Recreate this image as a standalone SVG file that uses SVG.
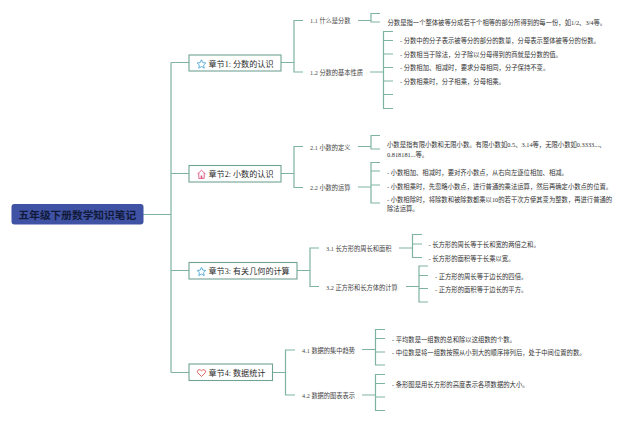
<svg xmlns="http://www.w3.org/2000/svg" width="640" height="422" viewBox="0 0 640 422">
<style>
text{font-family:"Liberation Serif","Noto Sans CJK SC",serif;fill:#333}
.root{font-size:10.7px;font-weight:700;fill:#111a3a}
.ch{font-size:8.1px;fill:#2b2b2b}
.sub{font-size:6.25px;fill:#444}
.b{font-size:6.33px}
.box{fill:#fff;stroke:#6fa394;stroke-width:1.1}
#connectors path{fill:none;stroke:#7fb3a1;stroke-width:1.2}
</style>
<rect width="640" height="422" fill="#fff"/>
<g id="connectors">
<path d="M143 214.5H171M171 62.5V372.5M171 62.5H189M171 173.5H189M171 270.5H189M171 372.5H189"/>
<path d="M281 62.5H294M303 20.5H294V72H303"/>
<path d="M281 173.5H294M303 146.5H294V187.5H303"/>
<path d="M297 270.5H310M319 248H310V286.5H319"/>
<path d="M272.5 372.5H285.5M295 350H285.5V395H295"/>
<path d="M358 20.5H371M380 13.5H371V22H380"/>
<path d="M370 72H383.5M393 31.5H383.5V108.5H393M383.5 40.5H393M383.5 54H393M383.5 67.5H393M383.5 81H393M383.5 94.5H393"/>
<path d="M358 146.5H371M380 135.5H371V149H380"/>
<path d="M358 187H371M380 162.5H371V203H380M371 171H380M371 185H380"/>
<path d="M399 248H412.5M422 234.5H412.5V257.5H422M412.5 244H422"/>
<path d="M406 286.5H419M428 266H419V302H428M419 275.5H428M419 288.5H428"/>
<path d="M362 349.5H375.5M385 329.5H375.5V365H385M375.5 338.5H385M375.5 352H385"/>
<path d="M362 395H375.5M385 374.5H375.5V410.5H385M375.5 383.5H385M375.5 397H385"/>
</g>
<g id="root"><rect x="11.5" y="204" width="132" height="20.5" rx="3" fill="#3f52a3"/><text class="root" x="18.5" y="218.5">五年级下册数学知识笔记</text></g>
<g id="chapter1"><rect class="box" x="189" y="55" width="92" height="16"/><path d="M201.5 59.8l1.3 2.8 3 .4-2.2 2.1.6 3-2.7-1.5-2.7 1.5.6-3-2.2-2.1 3-.4z" fill="none" stroke="#4aa8d8" stroke-width=".9"/><text class="ch" x="208.5" y="66.5">章节1: 分数的认识</text></g>
<g id="chapter2"><rect class="box" x="189" y="165.5" width="92" height="16.5"/><path d="M197.5 174l4-3.7 4 3.7M198.8 173v5.4h5.4V173" fill="none" stroke="#d9567f" stroke-width=".9"/><rect x="200.7" y="175.5" width="1.6" height="2.9" fill="#d9567f"/><text class="ch" x="208.5" y="177">章节2: 小数的认识</text></g>
<g id="chapter3"><rect class="box" x="189" y="262.5" width="108" height="16.5"/><path d="M201.5 267.3l1.3 2.8 3 .4-2.2 2.1.6 3-2.7-1.5-2.7 1.5.6-3-2.2-2.1 3-.4z" fill="none" stroke="#4aa8d8" stroke-width=".9"/><text class="ch" x="208.5" y="274">章节3: 有关几何的计算</text></g>
<g id="chapter4"><rect class="box" x="189" y="364" width="83.5" height="16.5"/><path d="M201.5 376.5l-3.7-3.7c-1.8-2.2 1.8-4.5 3.7-2 1.9-2.5 5.5-.2 3.7 2z" fill="none" stroke="#d9534f" stroke-width=".9"/><text class="ch" x="208.5" y="375.5">章节4: 数据统计</text></g>
<g id="s11"><text class="sub" x="310" y="22.6">1.1 什么是分数</text><text class="b" x="387.5" y="25">分数是指一个整体被等分成若干个相等的部分所得到的每一份，如1/2、3/4等。</text></g>
<g id="s12"><text class="sub" x="310" y="74.6">1.2 分数的基本性质</text>
<text class="b" x="400" y="43.3">- 分数中的分子表示被等分的部分的数量，分母表示整体被等分的份数。</text>
<text class="b" x="400" y="56.8">- 分数相当于除法，分子除以分母得到的商就是分数的值。</text>
<text class="b" x="400" y="70.3">- 分数相加、相减时，要求分母相同，分子保持不变。</text>
<text class="b" x="400" y="84">- 分数相乘时，分子相乘，分母相乘。</text></g>
<g id="s21"><text class="sub" x="310" y="149.6">2.1 小数的定义</text>
<text class="b" x="387" y="147">小数是指有限小数和无限小数。有限小数如0.5、3.14等，无限小数如0.3333...、</text>
<text class="b" x="387" y="156.5">0.818181...等。</text></g>
<g id="s22"><text class="sub" x="310" y="190">2.2 小数的运算</text>
<text class="b" x="387" y="174.5">- 小数相加、相减时，要对齐小数点，从右向左逐位相加、相减。</text>
<text class="b" x="387" y="188.5">- 小数相乘时，先忽略小数点，进行普通的乘法运算，然后再确定小数点的位置。</text>
<text class="b" x="387" y="201.8">- 小数相除时，将除数和被除数都乘以10的若干次方使其变为整数，再进行普通的</text>
<text class="b" x="387" y="211">除法运算。</text></g>
<g id="s31"><text class="sub" x="326" y="251">3.1 长方形的周长和面积</text>
<text class="b" x="428.5" y="246.5">- 长方形的周长等于长和宽的两倍之和。</text>
<text class="b" x="428.5" y="260.5">- 长方形的面积等于长乘以宽。</text></g>
<g id="s32"><text class="sub" x="326" y="289.5">3.2 正方形和长方体的计算</text>
<text class="b" x="435" y="278.5">- 正方形的周长等于边长的四倍。</text>
<text class="b" x="435" y="292">- 正方形的面积等于边长的平方。</text></g>
<g id="s41"><text class="sub" x="302" y="352.5">4.1 数据的集中趋势</text>
<text class="b" x="392" y="341.5">- 平均数是一组数的总和除以这组数的个数。</text>
<text class="b" x="392" y="355">- 中位数是将一组数按照从小到大的顺序排列后，处于中间位置的数。</text></g>
<g id="s42"><text class="sub" x="302" y="397.5">4.2 数据的图表表示</text>
<text class="b" x="392" y="386.5">- 条形图是用长方形的高度表示各项数据的大小。</text></g>
</svg>
